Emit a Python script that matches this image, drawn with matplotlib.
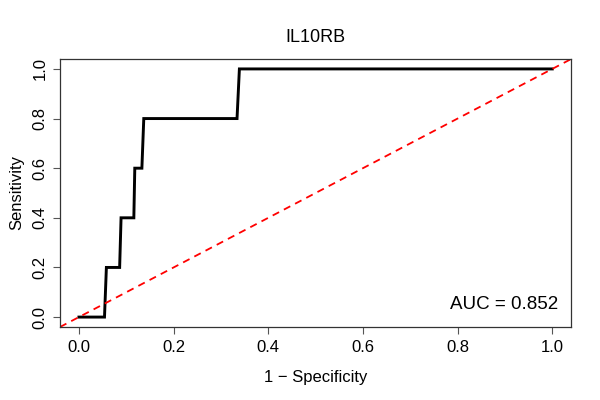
import numpy as np
import matplotlib.pyplot as plt

plt.rcParams['font.family'] = ['Liberation Sans', 'DejaVu Sans']

# ROC curve points
fpr = [0.0, 0.054, 0.058, 0.086, 0.089, 0.116, 0.118, 0.133, 0.137, 0.334, 0.339, 1.0]
tpr = [0.0, 0.0, 0.2, 0.2, 0.4, 0.4, 0.6, 0.6, 0.8, 0.8, 1.0, 1.0]
auc_value = 0.852
title = 'IL10RB'
ticks = [0.0, 0.2, 0.4, 0.6, 0.8, 1.0]

fig = plt.figure(figsize=(6, 4), dpi=100)
ax = fig.add_axes([0.1, 0.1825, 0.852, 0.67])

ax.plot(fpr, tpr, color='black', linewidth=2.1, solid_joinstyle='miter')
lim = (-0.04, 1.04)
ax.plot(lim, lim, color='red', linestyle=(0, (4, 3)), linewidth=1.3)

ax.set_xlim(lim)
ax.set_ylim(lim)
ax.set_xticks(ticks)
ax.set_yticks(ticks)
ax.set_xticklabels([f'{t:.1f}' for t in ticks], fontsize=12)
ax.set_yticklabels([f'{t:.1f}' for t in ticks], fontsize=12, rotation=90, va='center')
ax.tick_params(length=5, width=0.8, color='#555555', pad=4)
for s in ax.spines.values():
    s.set_linewidth(0.9)
    s.set_color('#333333')

ax.set_xlabel('1 \u2212 Specificity', fontsize=12, labelpad=11)
ax.set_ylabel('Sensitivity', fontsize=12, labelpad=6)
ax.set_title(title, fontsize=13, pad=12)

ax.text(1.013, 0.05, f'AUC = {auc_value:.3f}', fontsize=13.5, ha='right', va='center')

fig.savefig('out.png', dpi=100)
